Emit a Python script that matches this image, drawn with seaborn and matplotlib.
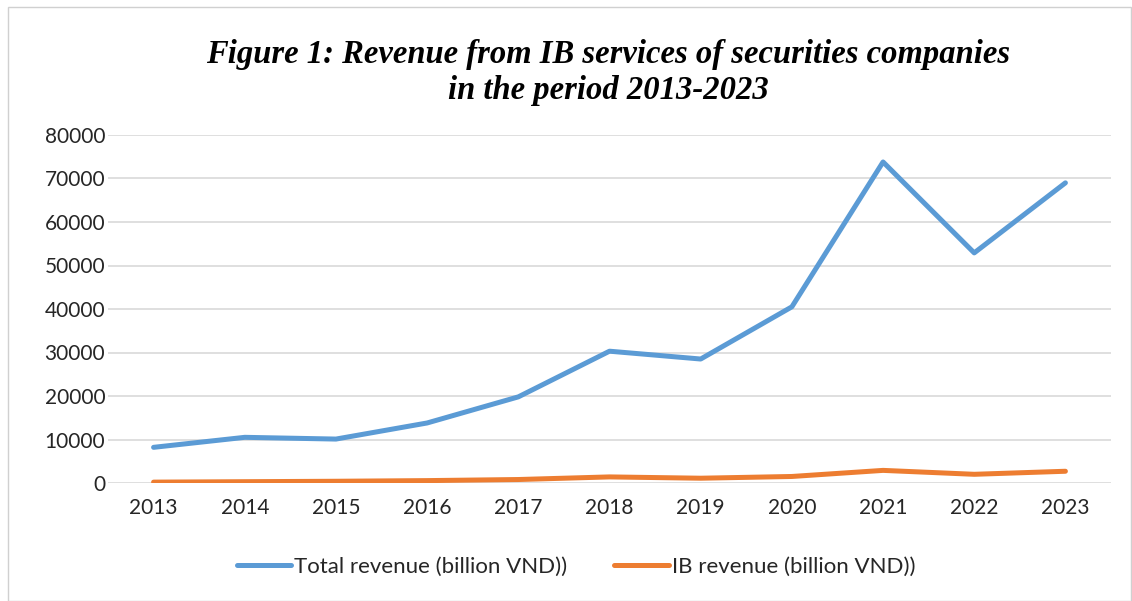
import matplotlib
matplotlib.use("Agg")
import matplotlib.pyplot as plt
import seaborn as sns
import pandas as pd
from matplotlib.patches import Rectangle
from matplotlib.lines import Line2D

years = ["2013", "2014", "2015", "2016", "2017", "2018", "2019", "2020", "2021", "2022", "2023"]
total_revenue = [8200, 10500, 10100, 13800, 19800, 30300, 28500, 40500, 73800, 52900, 69000]
ib_revenue = [200, 300, 400, 550, 800, 1400, 1100, 1500, 2900, 2000, 2700]
series_names = ["Total revenue (billion VND))", "IB revenue (billion VND))"]
colors = ["#5b9bd5", "#ed7d31"]

df = pd.DataFrame({
    "Year": years * 2,
    "Value": total_revenue + ib_revenue,
    "Series": [series_names[0]] * len(years) + [series_names[1]] * len(years),
})

sns.set_theme(style="white")
plt.rcParams["font.family"] = ["Lato", "DejaVu Sans"]

fig = plt.figure(figsize=(11.32, 6.01), dpi=100)
ax = fig.add_axes([108 / 1132, 1 - 483 / 601, (1111 - 108) / 1132, (483 - 135) / 601])

sns.lineplot(data=df, x="Year", y="Value", hue="Series", palette=colors,
             linewidth=3.6, ax=ax, legend=False, sort=False)

ax.set_xlim(-0.5, len(years) - 0.5)
ax.set_ylim(0, 80000)
ax.set_yticks(range(0, 80001, 10000))
ax.yaxis.grid(True, color="#d9d9d9", linewidth=1.2)
ax.set_axisbelow(True)
for s in ax.spines.values():
    s.set_visible(False)
ax.set_xlabel("")
ax.set_ylabel("")
ax.tick_params(axis="both", labelsize=15, colors="#262626", length=0)
ax.tick_params(axis="x", pad=11)
ax.tick_params(axis="y", pad=2)

handles = [Line2D([0], [0], color=c, linewidth=3.6) for c in colors]
fig.legend(handles, series_names, loc="center", bbox_to_anchor=(576 / 1132, 1 - 567 / 601),
           ncol=2, frameon=False, fontsize=16, handlelength=2.45, handletextpad=0.15,
           columnspacing=2.1, labelcolor="#262626")

title_family = ["Liberation Serif", "DejaVu Serif"]
fig.text(608 / 1132, 1 - 54 / 601, "Figure 1: Revenue from IB services of securities companies",
         ha="center", va="center", fontsize=23.5, fontweight="bold", fontstyle="italic",
         family=title_family, color="black")
fig.text(608 / 1132, 1 - 91 / 601, "in the period 2013-2023",
         ha="center", va="center", fontsize=23.5, fontweight="bold", fontstyle="italic",
         family=title_family, color="black")

fig.patches.append(Rectangle((8 / 1132, 0), 1 - 8 / 1132 - 0.001, 1 - 7 / 601,
                             transform=fig.transFigure, fill=False,
                             edgecolor="#d0d0d0", linewidth=1.0))

fig.savefig("out.png", dpi=100, facecolor="white")
